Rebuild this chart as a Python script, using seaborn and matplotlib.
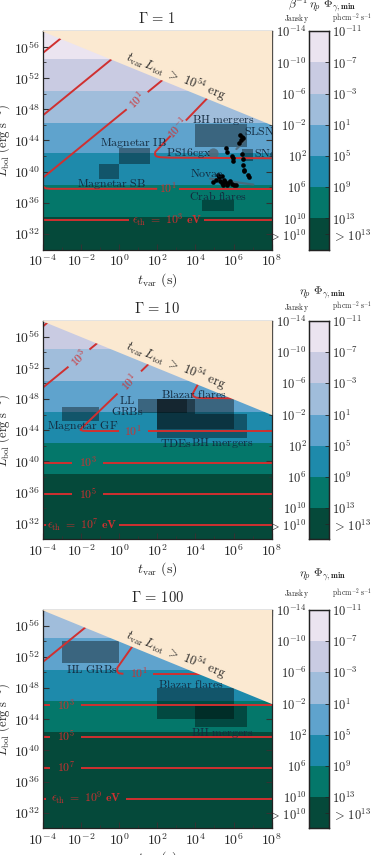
# threshold flux maps (three Lorentz factors) with source classes
import numpy as np
import matplotlib
matplotlib.use("Agg")
import matplotlib.pyplot as plt
import seaborn as sns
from matplotlib.colors import ListedColormap
from matplotlib.ticker import FixedLocator, FuncFormatter, NullFormatter

sns.set_theme(style="ticks")
plt.rcParams["font.family"] = ["cmr10", "DejaVu Serif"]
plt.rcParams["mathtext.fontset"] = "cm"
plt.rcParams["axes.unicode_minus"] = False
plt.rcParams["axes.formatter.use_mathtext"] = True

# ---- DATA (log10 units: t_var in s, L_bol in erg/s) ----
gamma_values = [1, 10, 100]
band_edges = [54.4, 50.35, 46.3, 42.4, 38.35, 34.2]
band_colors = ["#ebe4f0", "#c9cbe2", "#a0bddb", "#5fa3cd", "#1e8aab", "#04776a", "#05493a"]
band_offset = [0, 1, 2]

jansky_ticks = ["10^{-14}", "10^{-10}", "10^{-6}", "10^{-2}", "10^{2}", "10^{6}", "10^{10}", ">\\,10^{10}"]
photon_ticks = ["10^{-11}", "10^{-7}", "10^{-3}", "10^{1}", "10^{5}", "10^{9}", "10^{13}", ">\\,10^{13}"]
cbar_titles = [r"\beta^{-1}\,\eta_p\ \Phi_{\gamma,\mathbf{min}}", r"\eta_p\ \Phi_{\gamma,\mathbf{min}}",
               r"\eta_p\ \Phi_{\gamma,\mathbf{min}}"]

# energy budget limit t_var * L_tot = 1e54 erg
cap_logt = [-4, 8]
cap_logL = [58, 46]

# red threshold contours (segments, gaps left for labels)
contours_g1 = [
    [(-4, 55.2), (-2.5, 58.2)],
    [(-4, 47.2), (0.5, 56.2)],
    [(-4, 39.2), (0.4, 48.0)],
    [(1.5, 50.2), (3.0, 53.2)],
    [(3.5, 46.56), (5.6, 51.9)],
    [(2.7, 44.6), (1.9, 42.55), (1.88, 42.2), (1.95, 41.97), (2.15, 41.85), (2.6, 41.8), (8, 41.72)],
    [(-4, 38.15), (-3.85, 37.87), (-3.6, 37.8), (2.0, 37.8)],
    [(3.15, 37.8), (8, 37.8)],
    [(-4, 33.8), (0.5, 33.8)],
    [(4.45, 33.8), (8, 33.8)],
]
contours_g2 = [
    [(-4, 57.3), (-3, 59.3)],
    [(-4, 49.45), (-2.65, 52.15)],
    [(-1.55, 54.35), (-0.5, 56.45)],
    [(2.0, 53.55), (1.15, 51.55)],
    [(-0.08, 48.7), (-1.95, 44.3), (-2.02, 44.05), (-1.9, 43.93), (-1.6, 43.9), (0.0, 43.9)],
    [(1.5, 43.9), (8, 43.9)],
    [(4.3, 50.6), (3.86, 48.7), (3.9, 48.35), (4.05, 48.17), (4.4, 48.12), (6.5, 48.1)],
    [(-4, 39.85), (-2.45, 39.85)],
    [(-0.85, 39.85), (8, 39.85)],
    [(-4, 35.8), (-2.45, 35.8)],
    [(-0.85, 35.8), (8, 35.8)],
    [(-4, 31.8), (-3.85, 31.8)],
    [(0.0, 31.8), (8, 31.8)],
]
contours_g3 = [
    [(-4, 51.33), (-1.5, 56.3)],
    [(0.8, 53.7), (-0.09, 50.6), (-0.1, 50.15), (-0.02, 49.9), (0.15, 49.84), (0.23, 49.84)],
    [(1.8, 49.84), (5, 49.84)],
    [(-4, 45.82), (-3.6, 45.82)],
    [(-2.0, 45.82), (8, 45.82)],
    [(-4, 41.76), (-3.6, 41.76)],
    [(-2.0, 41.76), (8, 41.76)],
    [(-4, 37.79), (-3.6, 37.79)],
    [(-2.0, 37.79), (8, 37.79)],
    [(-4, 33.8), (-3.85, 33.8)],
    [(0.35, 33.8), (8, 33.8)],
]
clabels_g1 = [(r"\mathbf{10^{1}}", 0.95, 49.1, 45), (r"\mathbf{10^{-1}}", 3.1, 45.6, 47),
              (r"\mathbf{10^{1}}", 2.58, 37.8, 0),
              (r"\epsilon_{\rm th}\ \mathbf{=\ 10^{3}\ eV}", 2.5, 33.8, 0)]
clabels_g2 = [(r"\mathbf{10^{3}}", -2.1, 53.25, 45), (r"\mathbf{10^{1}}", 0.53, 50.1, 47),
              (r"\mathbf{10^{1}}", 0.75, 43.9, 0), (r"\mathbf{10^{3}}", -1.65, 39.85, 0),
              (r"\mathbf{10^{5}}", -1.65, 35.8, 0),
              (r"\epsilon_{\rm th}\ \mathbf{=\ 10^{7}\ eV}", -1.95, 31.8, 0)]
clabels_g3 = [(r"\mathbf{10^{1}}", 1.05, 49.84, 0), (r"\mathbf{10^{3}}", -2.8, 45.82, 0),
              (r"\mathbf{10^{5}}", -2.8, 41.76, 0), (r"\mathbf{10^{7}}", -2.8, 37.79, 0),
              (r"\epsilon_{\rm th}\ \mathbf{=\ 10^{9}\ eV}", -1.7, 33.8, 0)]

# source-class boxes: (t0, t1, L0, L1)
boxes_g1 = [(0.0, 1.6, 41.0, 43.04), (-1.03, 0.0, 39.07, 41.0), (4.0, 6.7, 43.1, 46.05),
            (4.33, 6.0, 35.0, 36.33), (6.43, 7.0, 41.33, 42.96)]
boxes_g2 = [(-3.0, -1.03, 45.18, 47.0), (1.0, 3.55, 46.25, 48.04), (2.0, 4.0, 43.0, 48.04),
            (2.0, 6.0, 44.1, 48.04), (4.0, 6.7, 43.0, 46.05)]
boxes_g3 = [(-3.0, 0.0, 51.16, 54.03), (2.0, 6.0, 44.07, 48.04), (4.0, 6.7, 43.0, 46.0)]

names_g1 = [("BH mergers", 5.47, 46.68, "center"), ("SLSNe", 6.55, 45.26, "left"),
            ("SNe", 7.09, 42.4, "left"), ("PS16cgx", 3.67, 42.4, "center"),
            ("Magnetar IB", 0.75, 43.68, "center"), ("Magnetar SB", -0.38, 38.47, "center"),
            ("Novae", 4.59, 39.84, "center"), ("Crab flares", 5.17, 36.93, "center")]
names_g2 = [("Magnetar GF", -1.9, 44.54, "center"), ("LL\nGRBs", 0.44, 47.19, "center"),
            ("Blazar flares", 3.93, 48.68, "center"), ("TDEs", 2.99, 42.32, "center"),
            ("BH mergers", 5.38, 42.32, "center")]
names_g3 = [("HL GRBs", -1.43, 50.39, "center"), ("Blazar flares", 3.76, 48.56, "center"),
            ("BH mergers", 5.38, 42.23, "center")]

# individual transients (panel 1)
sn_logt = [6.34, 6.43, 6.39, 6.52, 6.31, 5.59, 5.64, 5.96, 5.99, 5.90, 6.45, 6.48, 6.52, 6.55, 6.76, 6.79, 6.53]
sn_logL = [44.67, 44.41, 44.11, 44.32, 43.68, 43.04, 42.53, 41.76, 41.33, 41.97, 42.27, 41.68, 40.91, 40.26,
           39.62, 39.32, 40.05]
nova_logt = [4.94, 5.08, 5.26, 5.29, 5.38, 5.47, 5.50, 5.57, 5.64, 5.73, 5.82, 5.90, 6.03, 6.13, 5.38, 5.20]
nova_logL = [38.68, 38.98, 39.28, 38.85, 38.56, 38.34, 38.98, 38.68, 38.34, 38.56, 38.77, 38.43, 38.34, 38.26,
             39.41, 39.62]
slsn_track = [(6.15, 42.9), (6.6, 44.0)]
nova_track = [(4.77, 39.11), (7.04, 38.34)]
ps16_logt, ps16_logL = 4.9, 42.4

all_contours = [contours_g1, contours_g2, contours_g3]
all_clabels = [clabels_g1, clabels_g2, clabels_g3]
all_boxes = [boxes_g1, boxes_g2, boxes_g3]
all_names = [names_g1, names_g2, names_g3]

RED = "#d03030"
INK = "#13293d"
CREAM = "#fbe9d1"

# ---- FIGURE ----
fig = plt.figure(figsize=(3.75, 8.55), dpi=100)
panel_bottoms = [0.7080, 0.3691, 0.0311]
ax_h = 0.2554
cbar_title_y = [1.118, 1.13, 1.16]
cbar_head_y = [1.058, 1.064, 1.074]


def ten(v):
    return 10.0 ** np.asarray(v, dtype=float)


for k, g in enumerate(gamma_values):
    ax = fig.add_axes([0.1139, panel_bottoms[k], 0.6107, ax_h])
    cax = fig.add_axes([0.8248, panel_bottoms[k], 0.0525, ax_h])
    ax.set_xscale("log")
    ax.set_yscale("log")
    ax.set_xlim(1e-4, 1e8)
    ax.set_ylim(1e30, 1e58)

    # background bands
    tops = [58] + band_edges
    bots = band_edges + [30]
    for i, (hi, lo) in enumerate(zip(tops, bots)):
        ax.axhspan(10.0 ** lo, 10.0 ** hi, color=band_colors[min(i + band_offset[k], 6)], lw=0, zorder=0)

    # source boxes
    for (t0, t1, L0, L1) in all_boxes[k]:
        ax.fill_between(ten([t0, t1]), 10.0 ** L0, 10.0 ** L1, color="black", alpha=0.38, lw=0, zorder=1)

    # contours
    for seg in all_contours[k]:
        seg = np.array(seg)
        ax.plot(ten(seg[:, 0]), ten(seg[:, 1]), color=RED, lw=1.4, zorder=2, solid_capstyle="butt")
    for (txt, t, L, rot) in all_clabels[k]:
        ax.text(10.0 ** t, 10.0 ** L, "$" + txt + "$", color=RED, fontsize=8.5, rotation=rot,
                rotation_mode="anchor", ha="center", va="center", zorder=2)

    if k == 0:
        for tr in [slsn_track, nova_track]:
            tr = np.array(tr)
            ax.plot(ten(tr[:, 0]), ten(tr[:, 1]), color="#4d6472", lw=1.6, alpha=0.8, zorder=1)
        ax.scatter([10.0 ** ps16_logt], [10.0 ** ps16_logL], s=55, color="#4f6877", alpha=0.85, lw=0, zorder=1)
        sns.scatterplot(x=ten(sn_logt + nova_logt), y=ten(sn_logL + nova_logL), color="black", s=11,
                        linewidth=0, ax=ax, zorder=3)

    # energy budget region
    ax.fill_between(ten(cap_logt), ten(cap_logL), 1e60, color=CREAM, lw=0, zorder=3)
    ax.text(10.0 ** 2.95, 10.0 ** 52.3, r"$t_{\rm var}\,L_{\rm tot}\ >\ 10^{54}\ {\rm erg}$",
            fontsize=9, rotation=-22, rotation_mode="anchor", ha="center", va="center", color="#222222", zorder=4)

    for (txt, t, L, ha) in all_names[k]:
        lab = "\n".join(r"$\mathrm{" + part.replace(" ", r"\ ") + "}$" for part in txt.split("\n"))
        ax.text(10.0 ** t, 10.0 ** L, lab, fontsize=8.5, color=INK, ha=ha, va="center",
                linespacing=0.9, zorder=4, clip_on=True)

    # axes styling
    ax.xaxis.set_major_locator(FixedLocator(ten(range(-4, 9, 2))))
    ax.xaxis.set_minor_locator(FixedLocator(ten(range(-4, 9, 1))))
    ax.yaxis.set_major_locator(FixedLocator(ten(range(32, 57, 4))))
    ax.yaxis.set_minor_locator(FixedLocator(ten(range(30, 59, 2))))
    fmt = FuncFormatter(lambda v, p: r"$10^{%d}$" % int(round(np.log10(v))))
    ax.xaxis.set_major_formatter(fmt)
    ax.yaxis.set_major_formatter(fmt)
    ax.xaxis.set_minor_formatter(NullFormatter())
    ax.yaxis.set_minor_formatter(NullFormatter())
    ax.tick_params(which="both", direction="in", top=True, right=True, labelsize=10, pad=3, color="#333333")
    ax.tick_params(axis="y", which="major", pad=2)
    ax.tick_params(which="major", length=4, width=0.8)
    ax.tick_params(which="minor", length=2.5, width=0.6)
    for s in ax.spines.values():
        s.set_color("#222222")
        s.set_linewidth(0.9)
    ax.set_xlabel(r"$t_{\rm var}\ \mathrm{(s)}$", fontsize=10, labelpad=1)
    ax.set_ylabel(r"$L_{\rm bol}\ \mathrm{(erg\ s^{-1})}$", fontsize=9)
    ax.yaxis.set_label_coords(-0.136, 0.5)
    ax.text(0.5, 1.057, r"$\Gamma\, =\, %d$" % g, transform=ax.transAxes, ha="center", va="center", fontsize=10.5)

    # colour bar
    sns.heatmap(np.arange(7).reshape(-1, 1), cmap=ListedColormap(band_colors), cbar=False, ax=cax,
                xticklabels=False, yticklabels=False)
    cax.set_ylim(7, 0)
    pos = [0, 1, 2, 3, 4, 5, 6, 6.5]
    cax.set_yticks(pos)
    cax.set_yticklabels(["$" + s + "$" for s in jansky_ticks], fontsize=9)
    tw = cax.twinx()
    tw.set_ylim(7, 0)
    tw.set_yticks(pos)
    tw.set_yticklabels(["$" + s + "$" for s in photon_ticks], fontsize=9)
    for a in (cax, tw):
        a.tick_params(axis="y", direction="in", length=3, width=0.6, pad=2)
        a.grid(False)
        for s in a.spines.values():
            s.set_visible(True)
            s.set_color("#222222")
            s.set_linewidth(0.9)
    cax.text(-0.64, cbar_head_y[k], r"$\mathrm{Jansky}$", transform=cax.transAxes, ha="center", va="center",
             fontsize=5.5)
    cax.text(2.15, cbar_head_y[k], r"$\mathrm{ph\,cm^{-2}\,s^{-1}}$", transform=cax.transAxes, ha="center",
             va="center", fontsize=5.5)
    cax.text(0.65, cbar_title_y[k], "$" + cbar_titles[k] + "$", transform=cax.transAxes, ha="center",
             va="center", fontsize=8.5)

fig.savefig("out.png", dpi=100)
